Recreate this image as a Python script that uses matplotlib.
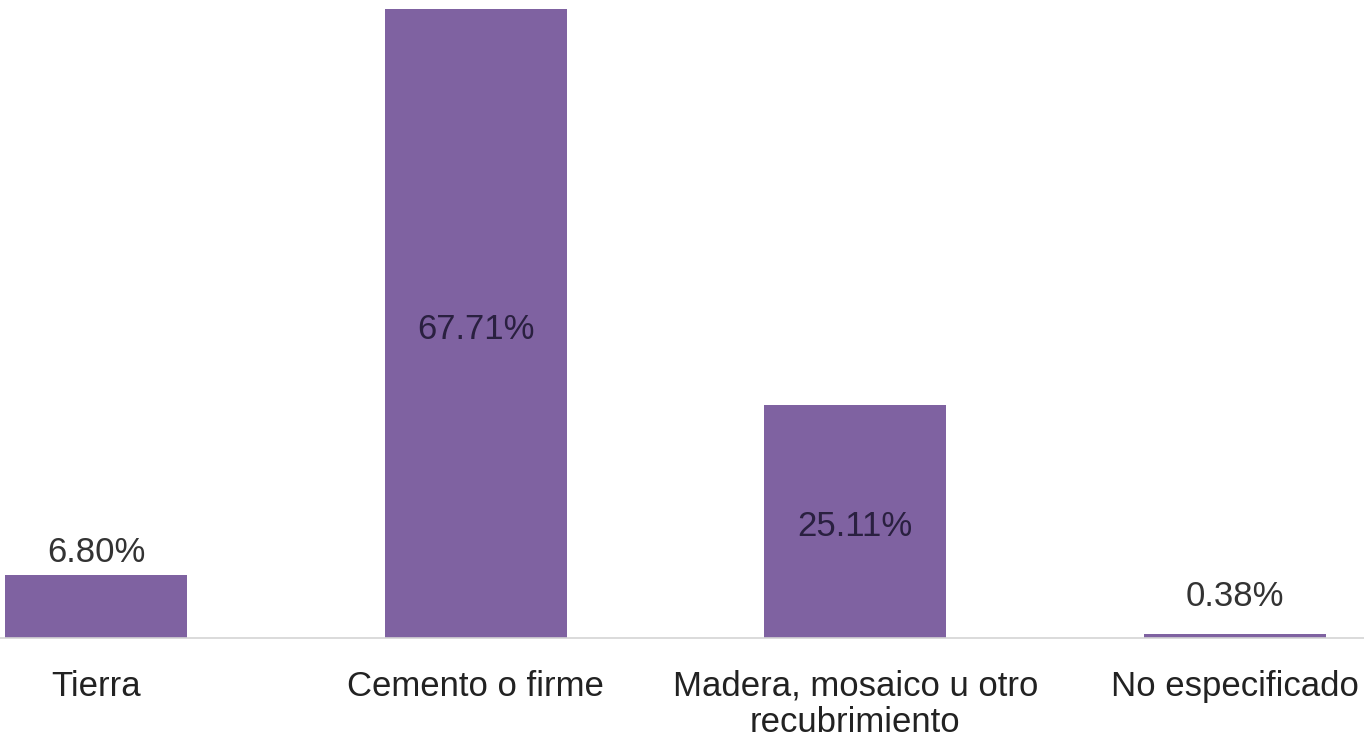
import matplotlib
matplotlib.use("Agg")
import matplotlib.pyplot as plt

categories = ["Tierra", "Cemento o firme", "Madera, mosaico u otro\nrecubrimiento", "No especificado"]
values = [6.80, 67.71, 25.11, 0.38]
value_labels = ["6.80%", "67.71%", "25.11%", "0.38%"]

plt.rcParams['font.family'] = ['Liberation Sans', 'DejaVu Sans']

fig = plt.figure(figsize=(13.64, 7.40), dpi=100)
ax = fig.add_axes([0, 102/740, 1, 1 - 102/740])

x = list(range(len(categories)))
bars = ax.bar(x, values, width=0.48, color="#7f62a1", zorder=2)

ax.set_xlim(-0.253, 3.34)
ax.set_ylim(0, 68.68)
for s in ["top", "right", "left"]:
    ax.spines[s].set_visible(False)
ax.spines["bottom"].set_color("#d4d4d4")
ax.spines["bottom"].set_linewidth(1.2)
ax.set_yticks([])
ax.set_xticks(x)
ax.set_xticklabels(categories, fontsize=25, color="#222222", linespacing=1.1)
ax.tick_params(axis="x", length=0, pad=23)

min_label_base = 2.0
for xi, v, lab in zip(x, values, value_labels):
    if v > 20:
        ax.annotate(lab, (xi, v / 2), xytext=(0, -4), textcoords="offset points",
                    ha="center", va="center", fontsize=25, color="#2a2040")
    else:
        ax.annotate(lab, (xi, max(v, min_label_base)), xytext=(0, 4.5), textcoords="offset points",
                    ha="center", va="bottom", fontsize=25, color="#333333")

fig.savefig("out.png", dpi=100)
